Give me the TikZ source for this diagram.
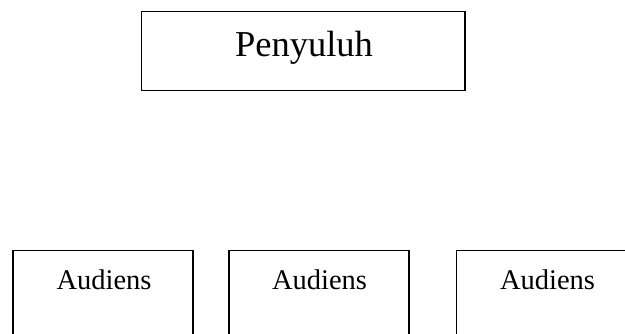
\documentclass[tikz,border=0pt]{standalone}
\usepackage{fontspec}
\setmainfont{Liberation Serif}
\begin{document}
\begin{tikzpicture}[x=1pt,y=1pt,
  box/.style={draw=black,line width=1.9pt,fill=none,inner sep=0pt},
  big/.style={font=\fontsize{36.5}{40}\selectfont,anchor=base,inner sep=0pt},
  small/.style={font=\fontsize{28.5}{32}\selectfont,anchor=base,inner sep=0pt}]
\useasboundingbox (0,0) rectangle (625,-334);
\clip (0,0) rectangle (625,-334);
\fill[white] (0,0) rectangle (625,-334);
\node[box,minimum width=323.5pt,minimum height=79pt] (p) at (303.25,-51) {};
\node[big] (pt) at (304,-56.7) {Penyuluh};
\node[box,minimum width=180pt,minimum height=120pt] (a1) at (103.25,-310.5) {};
\node[box,minimum width=180pt,minimum height=120pt] (a2) at (319.25,-310.5) {};
\node[box,minimum width=180pt,minimum height=120pt] (a3) at (546.5,-310.5) {};
\node[small] (t1) at (104,-289.3) {Audiens};
\node[small] (t2) at (319.5,-289.3) {Audiens};
\node[small] (t3) at (547.5,-289.3) {Audiens};
\end{tikzpicture}
\end{document}
